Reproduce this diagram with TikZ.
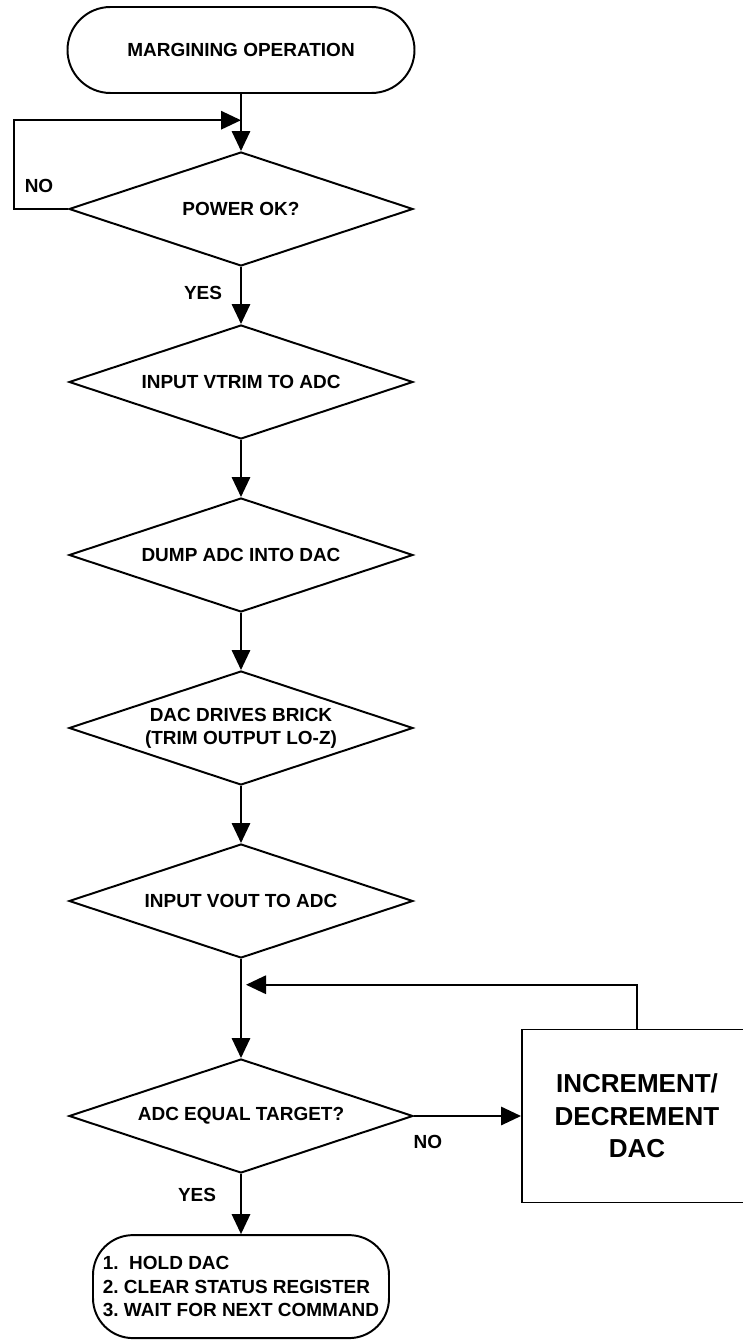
\documentclass[tikz,border=0pt]{standalone}
\usepackage{fontspec}
\setmainfont{Liberation Sans}
\usetikzlibrary{shapes,arrows.meta,positioning,calc}
\frenchspacing

\begin{document}
\begin{tikzpicture}[node distance=4.325cm, auto, line width=1.4pt,
    >={Triangle[length=0.5cm,width=0.46cm]},
    txt/.style={font=\bfseries\fontsize{13.5}{16.5}\selectfont},
    terminal/.style={draw, rectangle, rounded corners=#1, txt},
    decision/.style={draw, diamond, aspect=3, minimum width=8.6cm, minimum height=2.85cm, inner sep=0pt, align=center, txt},
    tag/.style={txt, inner sep=0pt}]
    \useasboundingbox (-6.025,1.25) rectangle (12.525,-32.275);

    \node[terminal=1.075cm, minimum width=8.675cm, minimum height=2.15cm] (start) {MARGINING OPERATION};
    \node[decision, below of=start, yshift=0.35cm] (power) {POWER OK?};
    \node[decision, below of=power] (vtrim) {INPUT VTRIM TO ADC};
    \node[decision, below of=vtrim] (dump) {DUMP ADC INTO DAC};
    \node[decision, below of=dump] (drive) {DAC DRIVES BRICK\\(TRIM OUTPUT LO-Z)};
    \node[decision, below of=drive] (vout) {INPUT VOUT TO ADC};
    \node[decision, below of=vout, yshift=-1.05cm] (equal) {ADC EQUAL TARGET?};
    \node[draw, rectangle, right of=equal, xshift=5.575cm, minimum width=5.75cm, minimum height=4.325cm, align=center, font=\bfseries\fontsize{18.5}{23.1}\selectfont] (incdec) {INCREMENT/\\DECREMENT\\DAC};
    \node[terminal=1.0cm, below of=equal, yshift=0.06cm, minimum width=7.4cm, minimum height=2.575cm, align=left, inner sep=0pt, font=\bfseries\fontsize{13.5}{16.7}\selectfont] (hold) {1.\ \ HOLD DAC\\2. CLEAR STATUS REGISTER\\3. WAIT FOR NEXT COMMAND};

    \coordinate (loopin) at ($(start.south)!0.46!(power.north)$);
    \coordinate (backin) at ($(vout.south)!0.26!(equal.north)+(0.125cm,0)$);

    \draw[->] (start) -- (power);
    \draw[->] (power.west) -- ++(-1.35cm,0) node[tag, anchor=center, xshift=0.625cm, yshift=0.575cm] (nopower) {NO} |- (loopin);
    \draw[->] (power) -- node[tag, left=0.45cm, pos=0.45] (yespower) {YES} (vtrim);
    \draw[->] (vtrim) -- (dump);
    \draw[->] (dump) -- (drive);
    \draw[->] (drive) -- (vout);
    \draw[->] (vout) -- (equal);
    \draw[->] (equal) -- node[tag, below=0.45cm, pos=0.13] (noequal) {NO} (incdec);
    \draw[->] (incdec.north) |- (backin);
    \draw[->] (equal) -- node[tag, left=0.6cm, pos=0.35] (yesequal) {YES} (hold);
\end{tikzpicture}
\end{document}
